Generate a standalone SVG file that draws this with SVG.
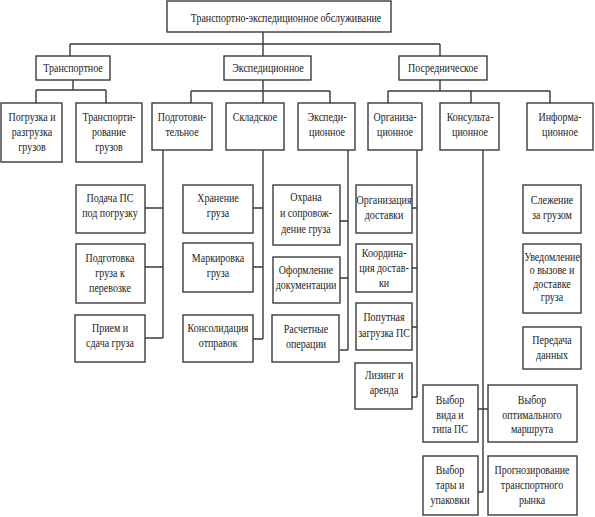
<svg xmlns="http://www.w3.org/2000/svg" width="595" height="517" viewBox="0 0 595 517">
<style>
rect{fill:#fff;stroke:#3a3a3a;stroke-width:1.4}
#connectors path{fill:none;stroke:#3a3a3a;stroke-width:1.4}
text{font-family:"Liberation Serif","Times New Roman",serif;font-size:12.5px;fill:#222;text-anchor:middle}
</style>
<rect x="0" y="0" width="595" height="517" style="stroke:none"/>
<g id="connectors">
<path d="M263 32V44M70 44H440M70 44V56M263 44V56M440 44V56"/>
<path d="M73 80V90M36 90H106M36 90V103M106 90V103"/>
<path d="M263 80V91M191 91H330M191 91V103M263 91V103M330 91V103"/>
<path d="M440 80V91M388 91H550M388 91V103M471 91V103M550 91V103"/>
<path d="M163 150V338M145 208H163M145 267H163M145 338H163"/>
<path d="M263 150V339M253 208H263M253 267H263M253 339H263"/>
<path d="M348 150V350M340 221H348M340 278H348M340 350H348"/>
<path d="M417 150V397M412 208H417M412 268H417M412 327H417M412 397H417"/>
<path d="M483 150V492M478 409H488M478 492H483"/>
</g>
<g id="root"><rect x="167" y="1" width="224" height="31"/><text x="286" y="22" transform="translate(286 22) scale(.8 1) translate(-286 -22)">Транспортно-экспедиционное обслуживание</text></g>
<g id="transport"><rect x="36" y="56" width="74" height="24"/><text transform="translate(73 72) scale(.8 1)">Транспортное</text></g>
<g id="exped"><rect x="224" y="56" width="87" height="24"/><text transform="translate(268 72) scale(.8 1)">Экспедиционное</text></g>
<g id="posred"><rect x="399" y="56" width="88" height="24"/><text transform="translate(443 72) scale(.8 1)">Посредническое</text></g>

<g id="pogruzka"><rect x="1" y="103" width="61" height="59"/><text transform="translate(32 121) scale(.8 1)"><tspan x="0">Погрузка и</tspan><tspan x="0" dy="15">разгрузка</tspan><tspan x="0" dy="15">грузов</tspan></text></g>
<g id="transportirovanie"><rect x="76" y="103" width="66" height="59"/><text transform="translate(109 121) scale(.8 1)"><tspan x="0">Транспорти-</tspan><tspan x="0" dy="15">рование</tspan><tspan x="0" dy="15">грузов</tspan></text></g>
<g id="podgotov"><rect x="152" y="103" width="60" height="47"/><text transform="translate(182 121) scale(.8 1)"><tspan x="0">Подготови-</tspan><tspan x="0" dy="15">тельное</tspan></text></g>
<g id="sklad"><rect x="226" y="103" width="58" height="47"/><text transform="translate(255 121) scale(.8 1)">Складское</text></g>
<g id="exped2"><rect x="298" y="103" width="57" height="47"/><text transform="translate(327 121) scale(.8 1)"><tspan x="0">Экспеди-</tspan><tspan x="0" dy="15">ционное</tspan></text></g>
<g id="org"><rect x="368" y="103" width="54" height="47"/><text transform="translate(395 121) scale(.8 1)"><tspan x="0">Организа-</tspan><tspan x="0" dy="15">ционное</tspan></text></g>
<g id="konsult"><rect x="440" y="103" width="59" height="47"/><text transform="translate(470 121) scale(.8 1)"><tspan x="0">Консульта-</tspan><tspan x="0" dy="15">ционное</tspan></text></g>
<g id="inform"><rect x="527" y="103" width="66" height="47"/><text transform="translate(560 121) scale(.8 1)"><tspan x="0">Информа-</tspan><tspan x="0" dy="15">ционное</tspan></text></g>

<g id="podacha"><rect x="76" y="185" width="69" height="48"/><text transform="translate(110 202) scale(.8 1)"><tspan x="0">Подача ПС</tspan><tspan x="0" dy="15">под погрузку</tspan></text></g>
<g id="podgotovka"><rect x="76" y="244" width="69" height="59"/><text transform="translate(110 262) scale(.8 1)"><tspan x="0">Подготовка</tspan><tspan x="0" dy="15">груза к</tspan><tspan x="0" dy="15">перевозке</tspan></text></g>
<g id="priem"><rect x="75" y="315" width="70" height="47"/><text transform="translate(110 332) scale(.8 1)"><tspan x="0">Прием и</tspan><tspan x="0" dy="15">сдача груза</tspan></text></g>

<g id="hranenie"><rect x="183" y="185" width="70" height="48"/><text transform="translate(218 202) scale(.8 1)"><tspan x="0">Хранение</tspan><tspan x="0" dy="15">груза</tspan></text></g>
<g id="markirovka"><rect x="183" y="243" width="70" height="49"/><text transform="translate(218 262) scale(.8 1)"><tspan x="0">Маркировка</tspan><tspan x="0" dy="15">груза</tspan></text></g>
<g id="konsolid"><rect x="183" y="315" width="70" height="47"/><text transform="translate(218 332) scale(.8 1)"><tspan x="0">Консолидация</tspan><tspan x="0" dy="15">отправок</tspan></text></g>

<g id="ohrana"><rect x="273" y="185" width="67" height="60"/><text transform="translate(306 201) scale(.8 1)"><tspan x="0">Охрана</tspan><tspan x="0" dy="16">и сопровож-</tspan><tspan x="0" dy="16">дение груза</tspan></text></g>
<g id="oformlenie"><rect x="273" y="257" width="67" height="46"/><text transform="translate(306 274) scale(.8 1)"><tspan x="0">Оформление</tspan><tspan x="0" dy="15">документации</tspan></text></g>
<g id="raschet"><rect x="272" y="315" width="67" height="47"/><text transform="translate(306 333) scale(.8 1)"><tspan x="0">Расчетные</tspan><tspan x="0" dy="15">операции</tspan></text></g>

<g id="orgdost"><rect x="356" y="185" width="56" height="48"/><text transform="translate(384 204) scale(.8 1)"><tspan x="0">Организация</tspan><tspan x="0" dy="15">доставки</tspan></text></g>
<g id="koord"><rect x="356" y="244" width="56" height="48"/><text transform="translate(384 257) scale(.8 1)"><tspan x="0">Координа-</tspan><tspan x="0" dy="15">ция достав-</tspan><tspan x="0" dy="15">ки</tspan></text></g>
<g id="poputnaya"><rect x="356" y="303" width="56" height="47"/><text transform="translate(384 321) scale(.8 1)"><tspan x="0">Попутная</tspan><tspan x="0" dy="16">загрузка ПС</tspan></text></g>
<g id="lizing"><rect x="355" y="363" width="57" height="46"/><text transform="translate(384 379) scale(.8 1)"><tspan x="0">Лизинг и</tspan><tspan x="0" dy="15">аренда</tspan></text></g>

<g id="vybor1"><rect x="423" y="385" width="55" height="57"/><text transform="translate(450 404) scale(.8 1)"><tspan x="0">Выбор</tspan><tspan x="0" dy="15">вида и</tspan><tspan x="0" dy="14">типа ПС</tspan></text></g>
<g id="vybor2"><rect x="488" y="385" width="89" height="57"/><text transform="translate(532 404) scale(.8 1)"><tspan x="0">Выбор</tspan><tspan x="0" dy="15">оптимального</tspan><tspan x="0" dy="14">маршрута</tspan></text></g>
<g id="vybor3"><rect x="423" y="456" width="55" height="59"/><text transform="translate(450 474) scale(.8 1)"><tspan x="0">Выбор</tspan><tspan x="0" dy="15">тары и</tspan><tspan x="0" dy="15">упаковки</tspan></text></g>
<g id="prognoz"><rect x="488" y="456" width="89" height="59"/><text transform="translate(532 474) scale(.8 1)"><tspan x="0">Прогнозирование</tspan><tspan x="0" dy="15">транспортного</tspan><tspan x="0" dy="15">рынка</tspan></text></g>

<g id="slezhenie"><rect x="523" y="185" width="58" height="48"/><text transform="translate(552 204) scale(.8 1)"><tspan x="0">Слежение</tspan><tspan x="0" dy="15">за грузом</tspan></text></g>
<g id="uvedomlenie"><rect x="523" y="244" width="58" height="69"/><text transform="translate(552 261) scale(.8 1)"><tspan x="0">Уведомление</tspan><tspan x="0" dy="13.5">о вызове и</tspan><tspan x="0" dy="13.5">доставке</tspan><tspan x="0" dy="13.5">груза</tspan></text></g>
<g id="peredacha"><rect x="523" y="327" width="58" height="42"/><text transform="translate(552 344) scale(.8 1)"><tspan x="0">Передача</tspan><tspan x="0" dy="15">данных</tspan></text></g>
</svg>
